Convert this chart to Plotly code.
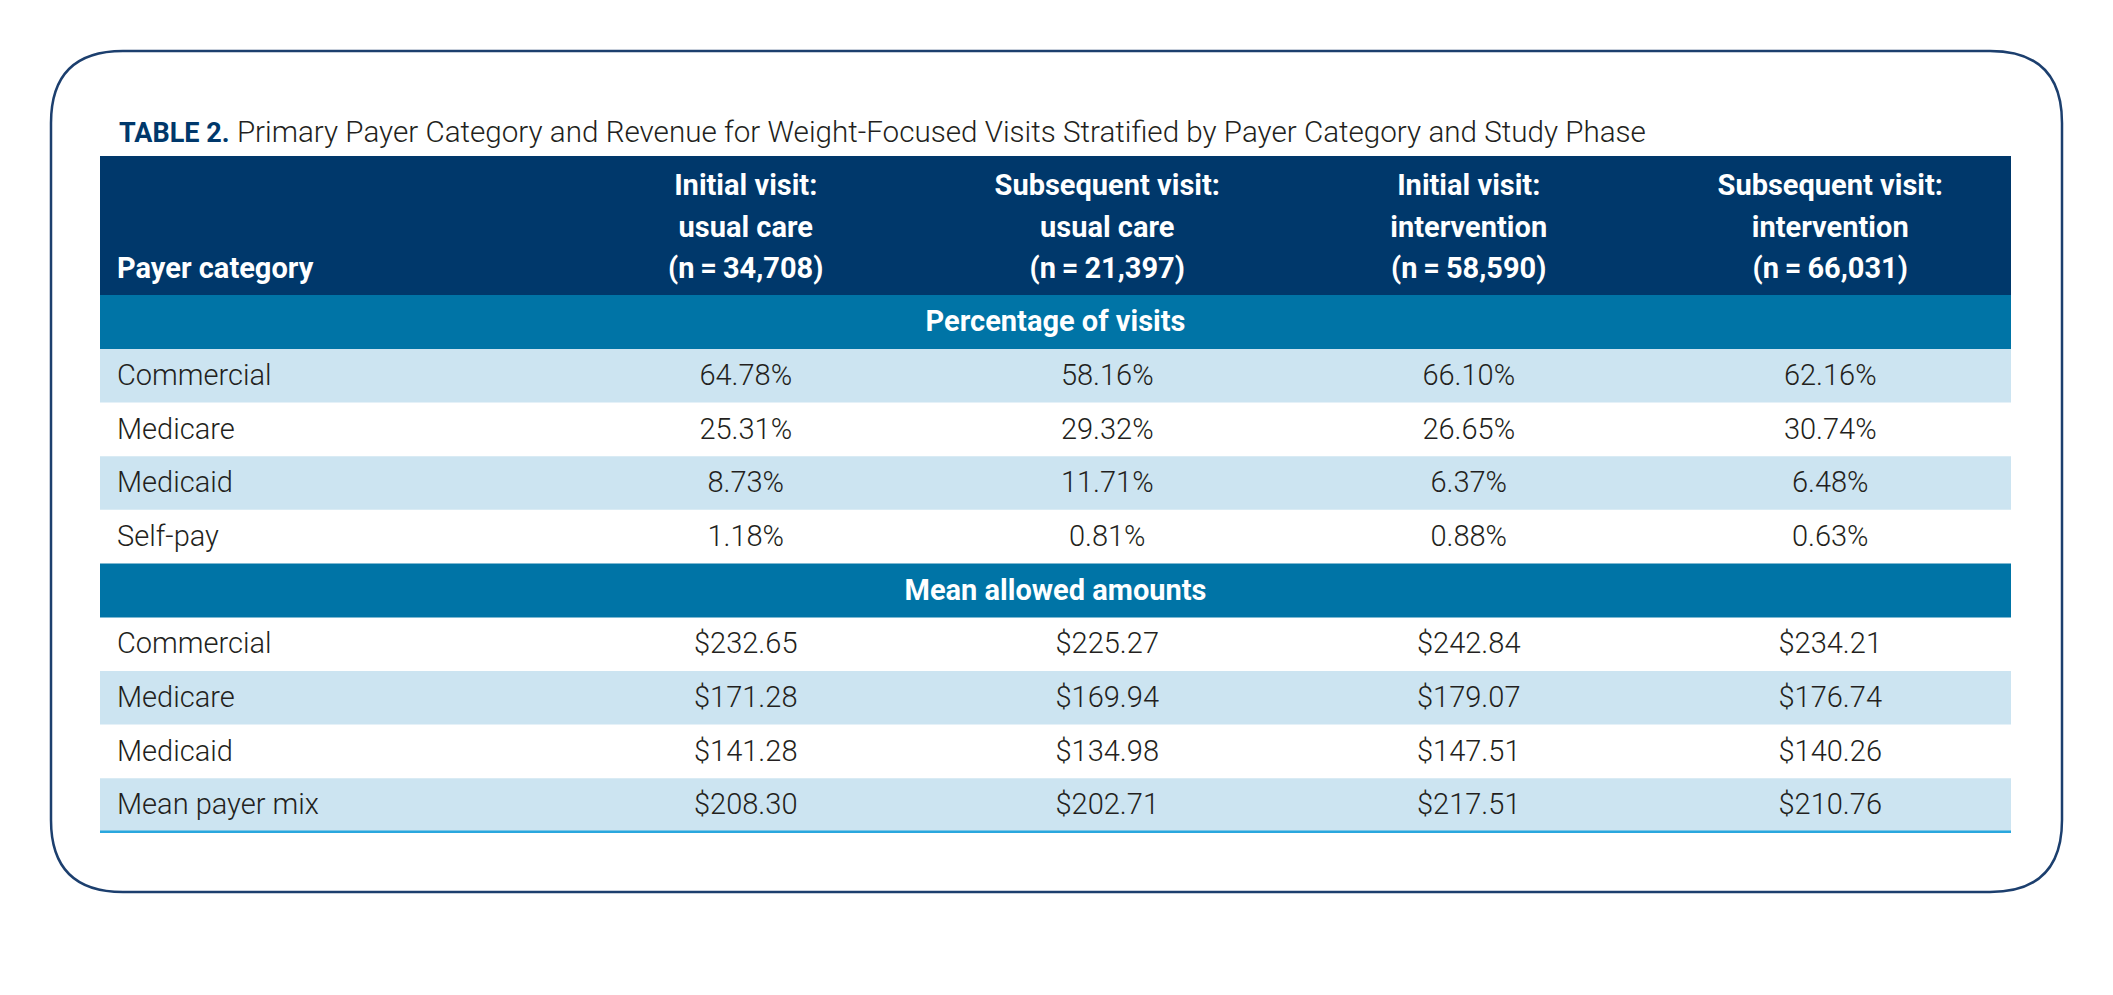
import plotly.graph_objects as go

# figure / table geometry (pixels)
W, H = 2113, 995
PAGE_PAD = 8  # default body margin of the html page
FONT = "Roboto"

title_bold = "TABLE 2."
title_text = "Primary Payer Category and Revenue for Weight-Focused Visits Stratified by Payer Category and Study Phase"

first_col_header = "Payer category"
col_headers = [
    ["Initial visit:", "usual care", "(n\u2009=\u200934,708)"],
    ["Subsequent visit:", "usual care", "(n\u2009=\u200921,397)"],
    ["Initial visit:", "intervention", "(n\u2009=\u200958,590)"],
    ["Subsequent visit:", "intervention", "(n\u2009=\u200966,031)"],
]

section1 = "Percentage of visits"
pct_labels = ["Commercial", "Medicare", "Medicaid", "Self-pay"]
pct_usual_initial = ["64.78%", "25.31%", "8.73%", "1.18%"]
pct_usual_subseq = ["58.16%", "29.32%", "11.71%", "0.81%"]
pct_int_initial = ["66.10%", "26.65%", "6.37%", "0.88%"]
pct_int_subseq = ["62.16%", "30.74%", "6.48%", "0.63%"]

section2 = "Mean allowed amounts"
amt_labels = ["Commercial", "Medicare", "Medicaid", "Mean payer mix"]
amt_usual_initial = ["$232.65", "$171.28", "$141.28", "$208.30"]
amt_usual_subseq = ["$225.27", "$169.94", "$134.98", "$202.71"]
amt_int_initial = ["$242.84", "$179.07", "$147.51", "$217.51"]
amt_int_subseq = ["$234.21", "$176.74", "$140.26", "$210.76"]

# colours
NAVY = "#00386b"
TEAL = "#0074a6"
STRIPE = "#cce4f1"
TEXT = "#231f20"
BORDER = "#1c3f6e"
RULE = "#29a7de"

# layout
tx0, tx1 = 100, 2011
first_w = 465
col_w = (tx1 - tx0 - first_w) / 4
label_x = 117
head_top, head_h = 156, 139
sec_h, row_h = 54, 53.6
BODY_SIZE = 29
HEAD_SIZE = 29
NUDGE = 2  # text sits slightly low in its row

fig = go.Figure()
shapes = []

# outer rounded frame
bx0, by0, bx1, by1, r = 51, 51, 2062, 892, 72
path = (f"M {bx0+r},{by0} L {bx1-r},{by0} Q {bx1},{by0} {bx1},{by0+r} "
        f"L {bx1},{by1-r} Q {bx1},{by1} {bx1-r},{by1} L {bx0+r},{by1} "
        f"Q {bx0},{by1} {bx0},{by1-r} L {bx0},{by0+r} Q {bx0},{by0} {bx0+r},{by0} Z")
shapes.append(dict(type="path", path=path, xref="x", yref="y",
                   line=dict(color=BORDER, width=2.5), fillcolor="white", layer="below"))

# header band
shapes.append(dict(type="rect", xref="x", yref="y", x0=tx0, x1=tx1, y0=head_top, y1=head_top + head_h,
                   fillcolor=NAVY, line=dict(width=0), layer="below"))

col_centers = [tx0 + first_w + col_w * (i + 0.5) for i in range(4)]
line_gap = 41.5
hx, hy, ht = [], [], []
for c, lines in enumerate(col_headers):
    for k, ln in enumerate(lines):
        hx.append(col_centers[c])
        hy.append(head_top + 32 + k * line_gap)
        ht.append(ln)
fig.add_trace(go.Scatter(x=hx, y=hy, text=ht, mode="text", textposition="middle center",
                         textfont=dict(family=FONT, size=HEAD_SIZE, color="white", weight=700),
                         hoverinfo="skip", showlegend=False))
fig.add_trace(go.Scatter(x=[label_x], y=[head_top + 32 + 2 * line_gap], text=[first_col_header],
                         mode="text", textposition="middle right",
                         textfont=dict(family=FONT, size=HEAD_SIZE, color="white", weight=700),
                         hoverinfo="skip", showlegend=False))

blocks = [
    (section1, pct_labels, [pct_usual_initial, pct_usual_subseq, pct_int_initial, pct_int_subseq]),
    (section2, amt_labels, [amt_usual_initial, amt_usual_subseq, amt_int_initial, amt_int_subseq]),
]

y = head_top + head_h
idx = 0
sec_x, sec_y, sec_t = [], [], []
lab_x, lab_y, lab_t = [], [], []
val_x, val_y, val_t = [], [], []
for title, labels, cols in blocks:
    shapes.append(dict(type="rect", xref="x", yref="y", x0=tx0, x1=tx1, y0=y, y1=y + sec_h,
                       fillcolor=TEAL, line=dict(width=0), layer="below"))
    sec_x.append((tx0 + tx1) / 2)
    sec_y.append(y + sec_h / 2 + NUDGE)
    sec_t.append(title)
    y += sec_h
    idx += 1
    for r_i, lab in enumerate(labels):
        if idx % 2 == 1:
            shapes.append(dict(type="rect", xref="x", yref="y", x0=tx0, x1=tx1, y0=y, y1=y + row_h,
                               fillcolor=STRIPE, line=dict(width=0), layer="below"))
        lab_x.append(label_x)
        lab_y.append(y + row_h / 2 + NUDGE)
        lab_t.append(lab)
        for c in range(4):
            val_x.append(col_centers[c])
            val_y.append(y + row_h / 2 + NUDGE)
            val_t.append(cols[c][r_i])
        y += row_h
        idx += 1

shapes.append(dict(type="line", xref="x", yref="y", x0=tx0, x1=tx1, y0=y, y1=y,
                   line=dict(color=RULE, width=2.5)))

fig.add_trace(go.Scatter(x=sec_x, y=sec_y, text=sec_t, mode="text", textposition="middle center",
                         textfont=dict(family=FONT, size=HEAD_SIZE, color="white", weight=700),
                         hoverinfo="skip", showlegend=False))
fig.add_trace(go.Scatter(x=lab_x, y=lab_y, text=lab_t, mode="text", textposition="middle right",
                         textfont=dict(family=FONT, size=BODY_SIZE, color=TEXT, weight=300),
                         hoverinfo="skip", showlegend=False))
fig.add_trace(go.Scatter(x=val_x, y=val_y, text=val_t, mode="text", textposition="middle center",
                         textfont=dict(family=FONT, size=BODY_SIZE, color=TEXT, weight=300),
                         hoverinfo="skip", showlegend=False))

fig.add_annotation(x=label_x, y=132, xref="x", yref="y", xanchor="left", yanchor="middle",
                   showarrow=False,
                   text=f"<b><span style='color:{NAVY};font-size:27px'>{title_bold}</span></b> "
                        f"<span style='font-weight:300'>{title_text}</span>",
                   font=dict(family=FONT, size=29.6, color=TEXT))

fig.update_layout(
    width=W - 2 * PAGE_PAD, height=H - 2 * PAGE_PAD, margin=dict(l=0, r=0, t=0, b=0),
    paper_bgcolor="white", plot_bgcolor="white",
    xaxis=dict(range=[PAGE_PAD, W - PAGE_PAD], visible=False, fixedrange=True),
    yaxis=dict(range=[H - PAGE_PAD, PAGE_PAD], visible=False, fixedrange=True),
    shapes=shapes,
)

fig.write_html("out.html")
